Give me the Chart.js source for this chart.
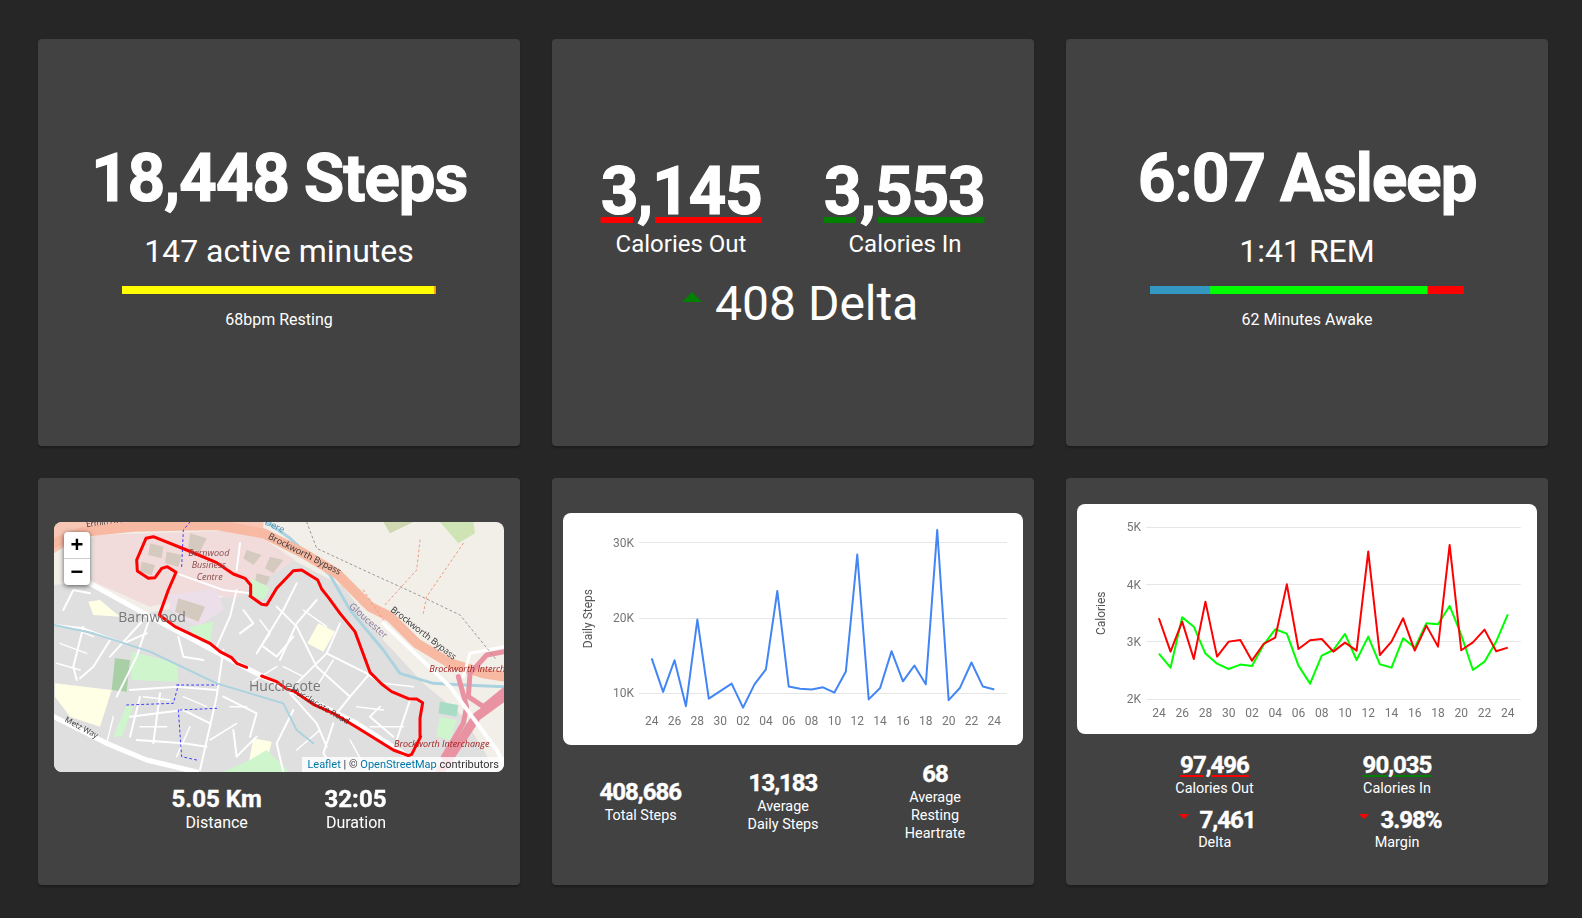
<!DOCTYPE html>
<html><head><meta charset="utf-8"><title>Fitness dashboard</title>
<script src="https://cdn.jsdelivr.net/npm/chart.js@4"></script>
<style>
html,body{margin:0;padding:0;background:#262626;width:1582px;height:918px;overflow:hidden;font-family:Roboto,sans-serif;color:#fff}
.card{position:absolute;background:#424242;border-radius:4px;box-shadow:0 2px 2px rgba(0,0,0,.25);width:482px;height:407px}
.panel{position:absolute;background:#fff;border-radius:8px;overflow:hidden}
.t{position:absolute;white-space:nowrap;transform:translateX(-50%);text-align:center}
canvas{position:absolute;display:block}
.tri{position:absolute;width:0;height:0;border-style:solid;border-color:transparent}
.ml{position:absolute;white-space:nowrap;transform-origin:left bottom;font-family:"Open Sans","Noto Sans",sans-serif}
</style></head><body>
<div class="card" style="left:38px;top:39px"></div>
<div class="card" style="left:552px;top:39px"></div>
<div class="card" style="left:1066px;top:39px"></div>
<div class="card" style="left:38px;top:478px"></div>
<div class="card" style="left:552px;top:478px"></div>
<div class="card" style="left:1066px;top:478px"></div>
<div class="panel" style="left:563px;top:513px;width:460px;height:232px"><canvas id="steps" width="460" height="232" style="left:0;top:0"></canvas></div>
<div class="panel" style="left:1077px;top:504px;width:460px;height:230px"><canvas id="cal" width="460" height="230" style="left:0;top:0"></canvas></div>
<canvas id="barActive" width="314" height="8" style="left:122px;top:286px"></canvas>
<canvas id="barSleep" width="314" height="8" style="left:1150px;top:286px"></canvas>
<div class="panel" id="mapBox" style="left:54px;top:522px;width:450px;height:250px;background:#f2efe9;border-radius:8px">
<canvas id="map" width="450" height="250" style="left:0;top:0"></canvas>
</div>
<div class="tri" style="left:682px;top:292px;border-width:0 10px 10px 10px;border-bottom-color:#008000"></div>
<div class="tri" style="left:1179px;top:814px;border-width:5px 5px 0 5px;border-top-color:#f00"></div>
<div class="tri" style="left:1359px;top:814px;border-width:5px 5px 0 5px;border-top-color:#f00"></div>
<script>
// ---------- data ----------
const days = ['24','25','26','27','28','29','30','01','02','03','04','05','06','07','08','09','10','11','12','13','14','15','16','17','18','19','20','21','22','23','24'];
const dailySteps = [14650,10200,14400,8300,19800,9300,10300,11300,8100,11200,13200,23600,10900,10600,10500,10800,10100,12900,28450,9200,10700,15600,11600,13700,11200,31700,9100,10750,14100,10900,10500];
const caloriesOut = [3413,2831,3355,2703,3703,2744,3006,3035,2674,2965,3075,4005,2878,3029,3052,2831,2988,2849,4576,2773,3006,3413,2849,3285,2919,4692,2855,2994,3215,2837,2901];
const caloriesIn = [2797,2552,3430,3267,2797,2622,2529,2605,2581,2948,3221,3145,2587,2273,2762,2860,3140,2686,3093,2610,2552,3064,2901,3326,3308,3628,3122,2512,2657,3006,3483];
const stepTicks = [10000,20000,30000];
const calTicks = [2000,3000,4000,5000];
const activeSplit = [99.3,0.7];
const activeColors = ['#ffff00','#ff9800'];
const sleepSplit = [101,367,62];
const sleepColors = ['#3399c2','#00ff00','#ff0000'];
const routeA = [[635,498],[680,515],[710,537],[735,545],[790,583],[850,610],[920,652],[1030,720],[1075,737],[1085,733],[1112,680],[1110,625],[1118,578],[1100,567],[1075,566],[1025,545],[995,522],[960,487],[915,365],[870,310],[835,262],[815,237],[803,210],[755,180],[730,182],[680,235],[650,285],[635,283],[600,258],[602,225],[585,205],[550,192],[500,158],[410,120],[310,80],[288,85],[260,150],[262,183],[295,205],[315,203],[335,175],[352,170],[378,187],[355,240],[328,315],[375,350],[480,400],[510,425],[545,443],[560,460],[590,472]];
const mapAreas = [
 ['#e0dfdf',[[12,225],[120,215],[290,310],[500,270],[730,150],[880,230],[1000,390],[1120,520],[1240,620],[1340,786],[12,786]]],
 ['#f1dbdb',[[130,75],[600,60],[735,150],[560,265],[470,250],[300,290],[130,215]]],
 ['#ecdfe9',[[360,255],[500,235],[520,300],[440,350],[360,300]]],
 ['#d5cabf',[[420,70],[470,85],[450,125],[415,115]]],['#d5cabf',[[300,100],[340,110],[335,145],[295,135]]],['#d5cabf',[[350,125],[395,135],[385,170],[345,160]]],
 ['#d5cabf',[[275,155],[315,165],[305,195],[270,185]]],['#d5cabf',[[385,265],[465,290],[445,335],[375,305]]],['#d5cabf',[[590,120],[635,135],[610,165],[580,145]]],
 ['#d5cabf',[[620,190],[660,200],[650,225],[615,215]]],['#d5cabf',[[660,140],[700,150],[670,190],[645,175]]],
 ['#cff5cc',[[245,425],[380,460],[385,515],[245,510]]],
 ['#ffffe5',[[15,520],[185,540],[150,650],[60,620],[15,560]]],
 ['#ffffe5',[[805,340],[855,365],[820,425],[772,400]]],
 ['#ffffe5',[[115,275],[150,270],[210,320],[130,315]]],
 ['#ffffe5',[[610,685],[665,695],[650,760],[598,750]]],
 ['#cff5cc',[[650,720],[720,786],[520,786],[600,750]]],
 ['#a9cfa6',[[195,445],[240,450],[230,545],[185,540]]],
 ['#cff5cc',[[230,585],[250,590],[215,680],[190,680]]],
 ['#cff5cc',[[420,350],[490,335],[480,400],[430,385]]],
 ['#cff5cc',[[605,205],[660,235],[640,270],[600,255]]],
 ['#a8dcc5',[[1170,575],[1225,585],[1220,620],[1165,610]]],
 ['#cff5cc',[[1170,620],[1220,630],[1200,690],[1160,680]]],
 ['#cfe4b4',[[1170,36],[1270,36],[1275,70],[1225,100]]],
 ['#f7c6b4',[[12,36],[640,36],[640,72],[500,50],[250,55],[100,75],[12,130]]],
 ['#cfd8b0',[[1000,36],[1090,36],[1020,70]]]
];
const mapRoads = [
 ['#ffffff',2,[[300,320],[260,440],[200,560]]],['#ffffff',2,[[520,420],[500,560],[450,780]]],
 ['#ffffff',2,[[560,240],[540,320],[500,410]]],['#ffffff',2,[[680,290],[740,350],[800,470],[900,560]]],
 ['#ffffff',2,[[740,220],[700,300],[620,430]]],['#ffffff',2,[[800,270],[740,340],[690,450]]],
 ['#ffffff',2,[[870,340],[830,430],[740,520]]],['#ffffff',2,[[830,430],[950,490],[1030,545]]],
 ['#ffffff',2,[[960,490],[900,560],[860,610]]],['#ffffff',2,[[1080,570],[1040,690]]],['#ffffff',2,[[990,590],[960,620],[1030,680]]],
 ['#ffffff',2,[[12,345],[100,355],[220,400],[290,370]]],['#ffffff',2,[[100,350],[70,470],[80,510]]],['#ffffff',2,[[180,390],[130,470],[90,505]]],
 ['#ffffff',2,[[280,330],[180,440]]],['#ffffff',2,[[240,540],[380,530],[500,540]]],['#ffffff',2,[[240,620],[400,600],[480,640]]],
 ['#ffffff',2,[[270,560],[240,680]]],['#ffffff',2,[[330,550],[310,700]]],['#ffffff',2,[[260,690],[400,700],[470,710]]],
 ['#ffffff',2,[[520,560],[620,610],[600,680]]],['#ffffff',2,[[550,660],[560,740],[620,680]]],
 ['#ffffff',2,[[720,550],[800,640],[830,710]]],['#ffffff',2,[[730,600],[680,700],[700,786]]],['#ffffff',2,[[850,640],[820,730],[860,786]]],
 ['#ffffff',2,[[40,300],[70,240],[120,250]]],['#ffffff',2,[[385,380],[400,440],[460,450]]],['#ffffff',2,[[580,300],[610,340],[570,370]]],
 ['#ffffff',2,[[640,410],[680,440],[730,380]]],['#ffffff',2,[[380,190],[520,240],[600,250]]],['#ffffff',2,[[570,100],[560,180]]],
 ['#ffffff',1.5,[[630,330],[660,370],[620,430]]],['#ffffff',1.5,[[760,300],[830,350]]],['#ffffff',1.5,[[700,470],[760,500]]],['#ffffff',1.5,[[600,520],[680,470]]],
 ['#ffffff',1.5,[[850,450],[800,530]]],['#ffffff',1.5,[[1000,520],[1090,530]]],['#ffffff',1.5,[[920,590],[1000,600]]],['#ffffff',1.5,[[960,650],[1060,650]]],
 ['#ffffff',1.5,[[280,560],[360,570]]],['#ffffff',1.5,[[270,650],[350,650]]],['#ffffff',1.5,[[400,560],[470,590]]],['#ffffff',1.5,[[420,650],[380,740]]],
 ['#ffffff',1.5,[[540,590],[590,590]]],['#ffffff',1.5,[[480,690],[560,640]]],['#ffffff',1.5,[[740,720],[810,660]]],['#ffffff',1.5,[[900,690],[950,780]]],
 ['#ffffff',1.5,[[30,400],[110,430]]],['#ffffff',1.5,[[20,460],[90,480]]],['#ffffff',1.5,[[130,380],[60,350]]],['#ffffff',1.5,[[190,620],[170,700]]],
 ['#aad3df',3,[[650,36],[720,85],[840,195],[900,300],[1000,420],[1050,490],[1150,520],[1240,525],[1362,530]]],
 ['#aad3df',2,[[12,345],[130,370],[300,425],[500,520],[700,580],[740,660],[790,700]]],
 ['#f8b9a3',10,[[12,100],[100,65],[250,50],[500,45],[640,70],[760,130],[860,190],[960,290],[1020,320],[1100,400],[1200,460],[1300,490],[1362,500]]],
 ['#e892a2',5,[[1362,425],[1310,435],[1260,490],[1255,560],[1300,590],[1362,540]]],
 ['#e892a2',5,[[1225,500],[1250,590],[1240,640],[1180,740]]],
 ['#e892a2',9,[[1362,560],[1280,620],[1170,786]]],
 ['#ffffff',5,[[110,215],[300,320],[600,480],[920,640],[1060,730]]],
 ['#ffffff',5,[[12,620],[170,700],[290,750],[440,786]]],
 ['#ffffff',4,[[1000,340],[1200,530],[1340,720],[1362,760]]],
 ['#ffffff',3,[[1240,500],[1260,430],[1362,410]]]
];
const mapDashes = [
 ['#3d3dff',[[420,36],[400,60],[395,170]]],['#3d3dff',[[380,525],[500,525]]],['#3d3dff',[[230,585],[370,580],[385,525]]],
 ['#3d3dff',[[390,600],[500,595]]],['#3d3dff',[[385,600],[395,740],[440,750]]],
 ['#f0987e',[[940,240],[1000,330]]],['#f0987e',[[1110,90],[1100,180],[1000,290]]],['#f0987e',[[1240,100],[1130,260],[1120,310]]],
 ['#999999',[[770,36],[800,115],[940,180],[1105,255],[1230,315],[1340,450]]]
];
// x, baseline, text, size, weight, underline colour, thickness, offset, letter spacing, stroke
const texts = [
 [279,200.7,'18,448 Steps',66,700,0,0,0,-1.3,1],[279,261.7,'147 active minutes',32,400],[279,325,'68bpm Resting',16,400],
 [681,214,'3,145',66,700,'#f00',6,3,-1.4,1],[904,214,'3,553',66,700,'#008000',6,3,-1.4,1],
 [681,252.7,'Calories Out',24,400],[905,252.7,'Calories In',24,400],[816.7,320,'408 Delta',48,400],
 [1307,200.7,'6:07 Asleep',66,700,0,0,0,-1.3,1],[1307,261.7,'1:41 REM',32,400],[1307,325,'62 Minutes Awake',16,400],
 [216.7,807.7,'5.05 Km',24,700,0,0,0,0,.4],[216.7,828.3,'Distance',16,400],[355.5,807.7,'32:05',24,700,0,0,0,0,.4],[356,828.3,'Duration',16,400],
 [640.3,801,'408,686',24,700,0,0,0,-1,.4],[640.7,820,'Total Steps',14.4,400],
 [783,792,'13,183',24,700,0,0,0,-1,.4],[783,811,'Average',14.4,400],[783,829,'Daily Steps',14.4,400],
 [935,782.8,'68',24,700,0,0,0,-1,.4],[935,802,'Average',14.4,400],[935,820,'Resting',14.4,400],[935,838,'Heartrate',14.4,400],
 [1214.5,774,'97,496',24,700,'#f00',2,2,-1,.4],[1214.5,793.7,'Calories Out',14.4,400],
 [1397,774,'90,035',24,700,'#008000',2,2,-1,.4],[1397,793.7,'Calories In',14.4,400],
 [1227.5,828.5,'7,461',24,700,0,0,0,-1,.4],[1214.7,847,'Delta',14.4,400],[1411,828.5,'3.98%',24,700,0,0,0,-1,.4],[1397,847,'Margin',14.4,400]
];
const mapLabels = [
 [193,315,'Barnwood',14,'#777',0],[585,521,'Hucclecote',14,'#777',0],
 [403,111,'Barnwood',9,'#8a4a4a',0,'italic'],[413,147,'Business',9,'#8a4a4a',0,'italic'],[428,182,'Centre',9,'#8a4a4a',0,'italic'],
 [636,56,'Brockworth Bypass',9,'#333',27],[1003,272,'Brockworth Bypass',9,'#333',38],
 [876,264,'Gloucester',9.5,'#8a7a9a',42],[705,515,'Hucclecote Road',8.5,'#333',30],
 [28,604,'Metz Way',8,'#333',28],[628,16,'Dere',9,'#4a90b8',25],[98,24,'Ermin Avenue',8,'#333',-8],
 [1126,459,'Brockworth Interchange',9,'#a02020',0,'italic'],[1020,685,'Brockworth Interchange',9,'#a02020',0,'italic']
];
// ---------- static text ----------
const ASC=.3418;
texts.forEach(([x,b,s,size,w,uc,ut,uo,ls,st])=>{
  const d=document.createElement('div');d.className='t';d.textContent=s;
  const L=Math.round(size*1.2);
  d.style.cssText=`left:${x}px;top:${b-L/2-ASC*size}px;font-size:${size}px;font-weight:${w};line-height:${L}px;letter-spacing:${ls||0}px`;
  if(st)d.style.webkitTextStroke=st+'px #fff';
  if(uc){d.style.textDecoration='underline';d.style.textDecorationColor=uc;d.style.textDecorationThickness=ut+'px';d.style.textUnderlineOffset=uo+'px';}
  document.body.appendChild(d);
});
const box=document.getElementById('mapBox');
mapLabels.forEach(([x,y,s,size,c,rot,st])=>{
  const d=document.createElement('div');d.className='ml';d.textContent=s;
  d.style.cssText=`left:${x/3}px;top:${y/3-size*1.35}px;font-size:${size}px;color:${c};transform:rotate(${rot}deg);line-height:${size*1.35}px;font-style:${st||'normal'}`;
  box.appendChild(d);
});
box.insertAdjacentHTML('beforeend',`
<div style="position:absolute;left:10px;top:10px;width:26px;height:53px;background:#fff;border-radius:4px;box-shadow:0 1px 5px rgba(0,0,0,.65);color:#000;font:bold 22px 'Liberation Sans',Arial,sans-serif;text-align:center;line-height:26px">
<div style="height:26px;border-bottom:1px solid #ccc;box-sizing:content-box">+</div><div style="height:26px">&#8722;</div></div>
<div style="position:absolute;right:0;bottom:0;background:rgba(255,255,255,.8);padding:0 5px;font:11px/15px Roboto,sans-serif;color:#333;white-space:nowrap"><span style="color:#0078a8">Leaflet</span> | © <span style="color:#0078a8">OpenStreetMap</span> contributors</div>`);
// ---------- charts ----------
Chart.defaults.animation=false;
Chart.defaults.responsive=false;
const pts=a=>a.map((y,i)=>({x:i,y}));
function lineChart(id,series,yTicks,yMin,yMax,title,pad,yW,xH,labPad,titleTop){
 return new Chart(document.getElementById(id),{type:'line',
  data:{labels:days,datasets:series.map(([label,vals,color])=>({label,data:pts(vals),borderColor:color,borderWidth:2,borderJoinStyle:'round',pointRadius:0,tension:0,fill:false}))},
  options:{layout:{padding:pad},plugins:{legend:{display:false},tooltip:{enabled:false}},
   scales:{
    x:{type:'linear',min:-1.11,max:31.11,grid:{display:false,drawTicks:false},border:{display:false},
       afterBuildTicks(s){s.ticks=days.map((d,i)=>({value:i})).filter(t=>t.value%2===0)},
       afterFit(s){s.height=xH},
       ticks:{autoSkip:false,maxRotation:0,padding:labPad,color:'#757575',font:{family:'Roboto',size:12},callback:v=>days[v]}},
    y:{type:'linear',min:yMin,max:yMax,grid:{color:'#e6e6e6',drawTicks:false,lineWidth:1},border:{display:false},
       afterBuildTicks(s){s.ticks=yTicks.map(value=>({value}))},
       afterFit(s){s.width=yW},
       title:{display:true,text:title,color:'#555',font:{family:'Roboto',size:12},padding:{top:titleTop,bottom:0}},
       ticks:{padding:5,labelOffset:1,color:'#757575',font:{family:'Roboto',size:12},callback:v=>(v/1000)+'K'}}
   }}});
}
lineChart('steps',[['Daily Steps',dailySteps,'#4285f4']],stepTicks,7522,32345,'Daily Steps',{top:12,right:16,left:0,bottom:0},76,33,3,19);
lineChart('cal',[['Calories Out',caloriesOut,'#ff0000'],['Calories In',caloriesIn,'#00ff00']],calTicks,2000,5000,'Calories',{top:23.3,right:16.3,left:0,bottom:0},69,34.7,7,18);
function splitBar(id,vals,colors){
 const total=vals.reduce((a,b)=>a+b,0);
 new Chart(document.getElementById(id),{type:'bar',
  data:{labels:['']  ,datasets:vals.map((v,i)=>({data:[v],backgroundColor:colors[i],barPercentage:1,categoryPercentage:1,borderWidth:0}))},
  options:{indexAxis:'y',layout:{padding:0},plugins:{legend:{display:false},tooltip:{enabled:false}},
   scales:{x:{display:false,stacked:true,min:0,max:total},y:{display:false,stacked:true}}}});
}
splitBar('barActive',activeSplit,activeColors);
splitBar('barSleep',sleepSplit,sleepColors);
const xy=a=>a.map(([x,y])=>({x,y}));
const layers=[
 ...mapAreas.map(([c,p])=>({data:xy(p),borderColor:c,backgroundColor:c,borderWidth:0,fill:'shape'})),
 ...mapRoads.map(([c,w,p])=>({data:xy(p),borderColor:c,borderWidth:w,fill:false})),
 ...mapDashes.map(([c,p])=>({data:xy(p),borderColor:c,borderWidth:1,borderDash:[2,3],fill:false})),
 {label:'Route',data:xy(routeA),borderColor:'#ff0000',borderWidth:3,fill:false}
];
layers.forEach((l,i)=>{l.order=layers.length-i;l.pointRadius=0;l.showLine=true;l.tension=0;l.borderJoinStyle='round';l.borderCapStyle='round'});
new Chart(document.getElementById('map'),{type:'scatter',data:{datasets:layers},
 options:{layout:{padding:0},plugins:{legend:{display:false},tooltip:{enabled:false}},
  scales:{x:{type:'linear',display:false,min:12,max:1362},y:{type:'linear',display:false,min:36,max:786,reverse:true}}}});
</script></body></html>
